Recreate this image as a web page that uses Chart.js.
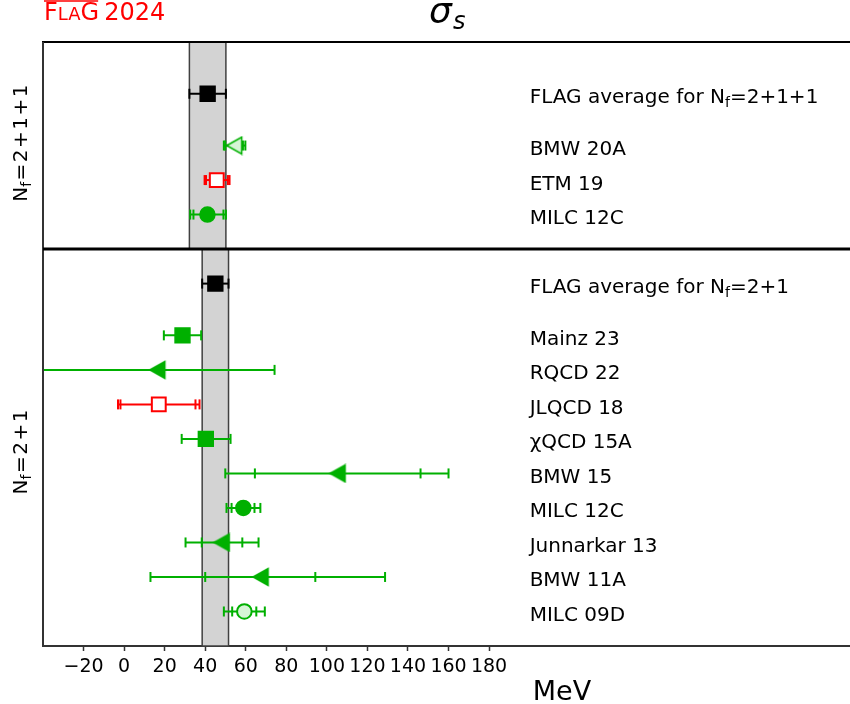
<!DOCTYPE html>
<html>
<head>
<meta charset="utf-8">
<script src="https://cdn.jsdelivr.net/npm/chart.js@4.4.1/dist/chart.umd.min.js"></script>
<style>
  html, body { margin: 0; padding: 0; background: #fff; }
  canvas { display: block; }
</style>
</head>
<body>
<canvas id="sigmaChart" width="850" height="704"></canvas>
<script>
// sigma_s in MeV, N_f = 2+1+1
const avg4Value = 41.2;
const avg4Err = 9.0;
const studies4 = ["BMW 20A", "ETM 19", "MILC 12C"];
const values4 = [54.3, 45.7, 41.1];
const statLo4 = [49.9, 40.4, 34.2];
const statHi4 = [58.6, 51.2, 49.0];
const totLo4 = [49.2, 39.7, 32.6];
const totHi4 = [59.8, 52.0, 50.2];
const markers4 = ["openTriangle", "openSquareRed", "circle"];

// sigma_s in MeV, N_f = 2+1
const avg3Value = 45.0;
const avg3Err = 6.5;
const studies3 = ["Mainz 23", "RQCD 22", "JLQCD 18", "\u03c7QCD 15A", "BMW 15",
                  "MILC 12C", "Junnarkar 13", "BMW 11A", "MILC 09D"];
const values3 = [28.8, 16.4, 17.1, 40.3, 105.3, 58.8, 48.1, 67.3, 59.3];
const statLo3 = [19.6, -42, -1.8, 28.4, 64.5, 53.0, 38.3, 40.0, 53.3];
const statHi3 = [38.0, 74.2, 35.2, 52.5, 146.2, 64.3, 58.3, 94.3, 65.2];
const totLo3 = [19.6, -42, -3.0, 28.4, 49.9, 50.5, 30.3, 13.0, 49.2];
const totHi3 = [38.0, 74.2, 37.2, 52.5, 160.0, 67.2, 66.3, 128.7, 69.4];
const markers3 = ["square", "triangle", "openSquareRed", "square", "triangle",
                  "circle", "triangle", "triangle", "openCircle"];

const xTicks = [-20, 0, 20, 40, 60, 80, 100, 120, 140, 160, 180];

const GREEN = "#00b000";
const RED = "#ff0000";
const LIGHT = "#d6f5d6";
const FONT = "DejaVu Sans";

// rows are stacked top to bottom, one unit per study
const panels = [
  { nf: "2+1+1", avg: avg4Value, err: avg4Err, names: studies4, values: values4,
    statLo: statLo4, statHi: statHi4, totLo: totLo4, totHi: totHi4, markers: markers4,
    start: 0, avgAt: 1.5, firstAt: 3, end: 6, titleAt: 2.93 },
  { nf: "2+1", avg: avg3Value, err: avg3Err, names: studies3, values: values3,
    statLo: statLo3, statHi: statHi3, totLo: totLo3, totHi: totHi3, markers: markers3,
    start: 6, avgAt: 7, firstAt: 8.5, end: 17.5, titleAt: 11.88 },
];

function leftTriangle(fill, stroke) {
  const c = document.createElement("canvas");
  c.width = 20;
  c.height = 20;
  const g = c.getContext("2d");
  g.beginPath();
  g.moveTo(2.5, 10);
  g.lineTo(17.5, 1.5);
  g.lineTo(17.5, 18.5);
  g.closePath();
  g.fillStyle = fill;
  g.fill();
  g.lineWidth = 1.5;
  g.strokeStyle = stroke;
  g.stroke();
  return c;
}

const markerStyles = {
  avg: { style: "rect", radius: 10.5, fill: "#000", edge: "#000", lw: 1.5 },
  square: { style: "rect", radius: 10.5, fill: GREEN, edge: GREEN, lw: 1.5 },
  circle: { style: "circle", radius: 7.5, fill: GREEN, edge: GREEN, lw: 1.5 },
  openCircle: { style: "circle", radius: 7.3, fill: LIGHT, edge: GREEN, lw: 2 },
  triangle: { style: leftTriangle(GREEN, GREEN), radius: 10, fill: GREEN, edge: GREEN, lw: 1.5 },
  openTriangle: { style: leftTriangle(LIGHT, GREEN), radius: 10, fill: LIGHT, edge: GREEN, lw: 1.5 },
  openSquareRed: { style: "rect", radius: 9.8, fill: "#fff", edge: RED, lw: 2 },
};

const rows = [];
panels.forEach((p) => {
  rows.push({ y: p.avgAt, value: p.avg, lo: p.avg - p.err, hi: p.avg + p.err,
              sLo: null, sHi: null, kind: "avg", label: null, nf: p.nf });
  p.names.forEach((name, i) => {
    rows.push({ y: p.firstAt + i, value: p.values[i], lo: p.totLo[i], hi: p.totHi[i],
                sLo: p.statLo[i], sHi: p.statHi[i], kind: p.markers[i], label: name });
  });
});

function caps(color) {
  return {
    pointStyle: "line",
    pointRotation: 90,
    pointRadius: 5,
    pointHoverRadius: 5,
    pointBorderWidth: 2,
    pointBorderColor: color,
    pointBackgroundColor: color,
  };
}

const datasets = [];
rows.forEach((r) => {
  const c = markerStyles[r.kind].edge;
  datasets.push({
    data: [{ x: r.lo, y: r.y }, { x: r.hi, y: r.y }],
    showLine: true,
    borderColor: c,
    borderWidth: 2,
    ...caps(c),
    order: 2,
  });
  if (r.sLo !== null && (r.sLo !== r.lo || r.sHi !== r.hi)) {
    datasets.push({
      data: [{ x: r.sLo, y: r.y }, { x: r.sHi, y: r.y }],
      showLine: false,
      ...caps(c),
      order: 2,
    });
  }
});
datasets.push({
  data: rows.map((r) => ({ x: r.value, y: r.y })),
  showLine: false,
  pointStyle: rows.map((r) => markerStyles[r.kind].style),
  pointRadius: rows.map((r) => markerStyles[r.kind].radius),
  pointHoverRadius: rows.map((r) => markerStyles[r.kind].radius),
  pointBackgroundColor: rows.map((r) => markerStyles[r.kind].fill),
  pointBorderColor: rows.map((r) => markerStyles[r.kind].edge),
  pointBorderWidth: rows.map((r) => markerStyles[r.kind].lw),
  order: 0,
});

// "N_f = ..." with a lowered small f
function nfParts(tail, gap) {
  const parts = [{ t: "N", size: 20, dy: 0 }, { t: "f", size: 14, dy: 4 }];
  ["="].concat(tail.split(/(\+)/)).forEach((t) => parts.push({ t, size: 20, dy: 0, gap }));
  return parts;
}

function partsWidth(ctx, parts) {
  let w = 0;
  parts.forEach((p) => {
    ctx.font = `${p.size}px ${FONT}`;
    w += (p.gap || 0) + ctx.measureText(p.t).width;
  });
  return w;
}

function drawParts(ctx, parts, x, y) {
  parts.forEach((p) => {
    ctx.font = `${p.size}px ${FONT}`;
    x += p.gap || 0;
    ctx.fillText(p.t, x, y + p.dy);
    x += ctx.measureText(p.t).width;
  });
}

const decor = {
  id: "flagDecor",
  beforeDatasetsDraw(chart) {
    const { ctx, scales: { x, y } } = chart;
    ctx.save();
    panels.forEach((p) => {
      const x0 = x.getPixelForValue(p.avg - p.err);
      const x1 = x.getPixelForValue(p.avg + p.err);
      const y0 = y.getPixelForValue(p.start);
      const y1 = y.getPixelForValue(p.end);
      ctx.fillStyle = "#d3d3d3";
      ctx.fillRect(x0, y0, x1 - x0, y1 - y0);
      ctx.strokeStyle = "#404040";
      ctx.lineWidth = 1.5;
      ctx.strokeRect(x0, y0, x1 - x0, y1 - y0);
    });
    ctx.restore();
  },
  afterDatasetsDraw(chart) {
    const { ctx, chartArea: a, scales: { x, y } } = chart;
    ctx.save();
    // spines and panel divider
    ctx.strokeStyle = "#000";
    ctx.lineWidth = 2;
    ctx.beginPath();
    ctx.moveTo(a.left - 1, a.top);
    ctx.lineTo(a.right, a.top);
    ctx.stroke();
    ctx.strokeStyle = "#333";
    ctx.beginPath();
    ctx.moveTo(a.left, a.top);
    ctx.lineTo(a.left, a.bottom + 1);
    ctx.stroke();
    ctx.strokeStyle = "#000";
    ctx.lineWidth = 3;
    ctx.beginPath();
    ctx.moveTo(a.left, y.getPixelForValue(panels[1].start));
    ctx.lineTo(a.right, y.getPixelForValue(panels[1].start));
    ctx.stroke();

    // study labels
    ctx.fillStyle = "#000";
    ctx.textBaseline = "alphabetic";
    ctx.textAlign = "left";
    const lx = x.getPixelForValue(200);
    rows.forEach((r) => {
      const py = y.getPixelForValue(r.y) + 9.5;
      if (r.kind === "avg") {
        drawParts(ctx, [{ t: "FLAG average for ", size: 20, dy: 0 }].concat(nfParts(r.nf, 0)), lx, py);
      } else {
        ctx.font = `20px ${FONT}`;
        ctx.fillText(r.label, lx, py);
      }
    });

    // panel titles
    panels.forEach((p) => {
      const parts = nfParts(p.nf, 1.5);
      const w = partsWidth(ctx, parts);
      ctx.save();
      ctx.translate(27, y.getPixelForValue(p.titleAt));
      ctx.rotate(-Math.PI / 2);
      drawParts(ctx, parts, -w / 2, 0);
      ctx.restore();
    });

    // axis unit
    ctx.font = `27px ${FONT}`;
    ctx.textAlign = "center";
    ctx.fillText("MeV", 562, 700);

    // title
    ctx.textAlign = "left";
    ctx.font = `italic 36px ${FONT}`;
    ctx.fillText("\u03c3", 429, 23);
    ctx.font = `italic 24px ${FONT}`;
    ctx.fillText("s", 453, 29);

    // FLAG 2024 logo
    ctx.fillStyle = RED;
    ctx.strokeStyle = RED;
    let lgx = 44;
    [["F", 24], ["LA", 18], ["G", 24]].forEach(([t, s]) => {
      ctx.font = `${s}px ${FONT}`;
      ctx.fillText(t, lgx, 20);
      lgx += ctx.measureText(t).width;
    });
    ctx.lineWidth = 1.5;
    ctx.beginPath();
    ctx.moveTo(44, 1);
    ctx.lineTo(lgx - 1, 1);
    ctx.stroke();
    ctx.font = `24px ${FONT}`;
    ctx.fillText("2024", lgx + 5, 20);
    ctx.restore();
  },
};

new Chart(document.getElementById("sigmaChart"), {
  type: "scatter",
  data: { datasets },
  options: {
    responsive: false,
    animation: false,
    devicePixelRatio: 1,
    events: [],
    layout: { autoPadding: false, padding: { left: 43, right: 0, top: 42, bottom: 0 } },
    plugins: { legend: { display: false }, tooltip: { enabled: false } },
    scales: {
      x: {
        type: "linear",
        min: -40,
        max: 358,
        afterBuildTicks: (s) => {
          s.ticks = xTicks.map((v) => ({ value: v }));
        },
        afterFit: (s) => {
          s.height = 58;
          s.paddingLeft = 0;
          s.paddingRight = 0;
        },
        ticks: {
          autoSkip: false,
          maxRotation: 0,
          minRotation: 0,
          padding: 5,
          color: "#000",
          font: { family: FONT, size: 19 },
          callback: (v) => (v < 0 ? "\u2212" + Math.abs(v) : String(v)),
        },
        grid: { drawOnChartArea: false, tickLength: 5, tickColor: "#333", tickWidth: 1.5 },
        border: { color: "#333", width: 2 },
      },
      y: { type: "linear", min: 0, max: 17.5, reverse: true, display: false },
    },
  },
  plugins: [decor],
});
</script>
</body>
</html>
